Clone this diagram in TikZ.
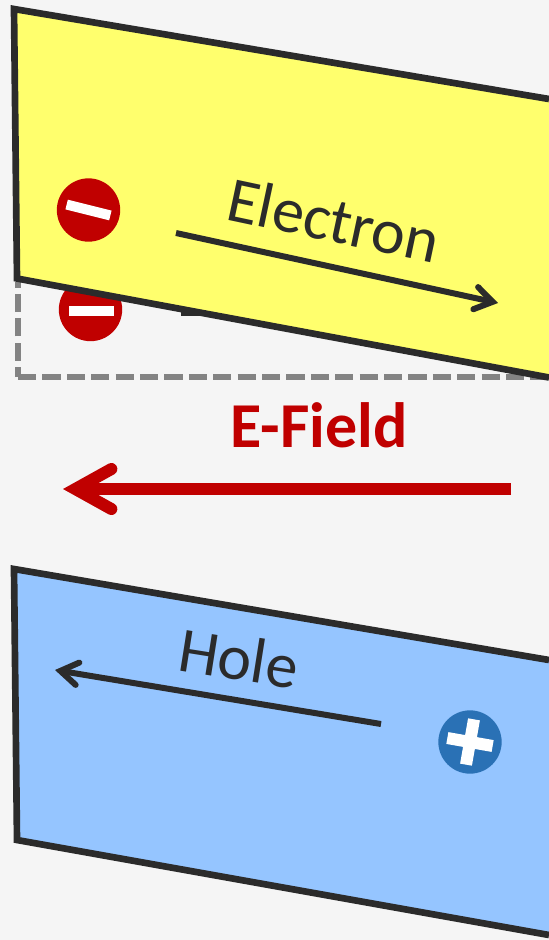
\documentclass[tikz,border=0pt]{standalone}
\usepackage{fontspec}
\setmainfont{Carlito}
\usetikzlibrary{arrows.meta}
\definecolor{bgc}{HTML}{F5F5F5}
\definecolor{ink}{HTML}{2B2B2B}
\definecolor{yel}{HTML}{FFFF6D}
\definecolor{blu}{HTML}{95C5FF}
\definecolor{redc}{HTML}{C00000}
\definecolor{bluc}{HTML}{2A71B5}
\definecolor{dashc}{HTML}{838383}
\tikzset{
  x=0.75pt,y=-0.75pt,
  plate/.style={draw=ink,line width=5pt,line join=miter},
  charge/.style={circle,minimum size=47.5pt,inner sep=0pt,outer sep=0pt},
  motion/.style={draw=ink,line width=4.5pt,-{Straight Barb[length=13pt,width=17pt,line width=4.5pt,line cap=round,line join=miter]}},
  lbl/.style={text=ink,font=\fontsize{48}{48}\selectfont,inner sep=0pt},
  bar/.style={fill=white,draw=none},
  gapline/.style={draw=dashc,line width=4.5pt,dash pattern=on 13.7pt off 4.6pt},
}
\begin{document}
\begin{tikzpicture}
\useasboundingbox (0,0) rectangle (549,940);
\fill[bgc] (0,0) rectangle (549,940);
% displaced position
\node[charge,fill=redc] (c0) at (90.5,309.5) {};
\fill[bar] (69,306) rectangle (114,316);
\fill[ink] (181,308) rectangle (210,316);
\coordinate (dc) at (18,377);
\coordinate (dt) at (18,282);
\coordinate (dr) at (549,377);
\draw[gapline] (dc) -- (dr);
\draw[gapline,dash phase=6.2pt] (dc) -- (dt);
% yellow plate
\draw[plate,fill=yel] (549,99) -- (14,9) -- (17,278.5) -- (549,377.5);
\node[charge,fill=redc] (c1) at (88.5,210) {};
\fill[bar,rotate around={-14:(88.5,210)}] (66,205) rectangle (111,215);
\coordinate (e1) at (176,233);
\coordinate (e2) at (498,303);
\draw[motion] (e1) -- (e2);
\node[lbl,rotate=-12] (electron) at (334,220) {Electron};
% field
\node[text=redc,font=\fontsize{48}{48}\selectfont\bfseries,inner sep=0pt] (field) at (319,425) {E-Field};
\coordinate (f1) at (511,489);
\coordinate (f2) at (63,489);
\draw[draw=redc,line width=9pt,-{Straight Barb[length=27pt,width=30pt,line width=9pt,line cap=round,line join=miter]}] (f1) -- (f2);
% blue plate
\draw[plate,fill=blu] (549,660) -- (14,569) -- (17,840) -- (549,935);
\coordinate (h1) at (381,724);
\coordinate (h2) at (55,670);
\draw[motion] (h1) -- (h2);
\node[lbl,rotate=-9] (hole) at (239,658) {Hole};
\node[charge,fill=bluc] (c2) at (470,742) {};
\begin{scope}[rotate around={-10:(470,742)}]
\fill[bar] (447,736) rectangle (493,748);
\fill[bar] (464,719) rectangle (476,765);
\end{scope}
\end{tikzpicture}
\end{document}
